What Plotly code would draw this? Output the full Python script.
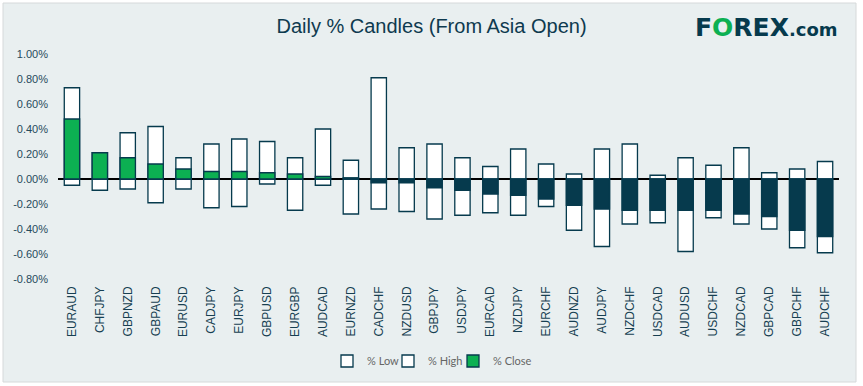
import plotly.graph_objects as go

pairs = ["EURAUD", "CHFJPY", "GBPNZD", "GBPAUD", "EURUSD", "CADJPY", "EURJPY",
         "GBPUSD", "EURGBP", "AUDCAD", "EURNZD", "CADCHF", "NZDUSD", "GBPJPY",
         "USDJPY", "EURCAD", "NZDJPY", "EURCHF", "AUDNZD", "AUDJPY", "NZDCHF",
         "USDCAD", "AUDUSD", "USDCHF", "NZDCAD", "GBPCAD", "GBPCHF", "AUDCHF"]
pct_high = [0.73, 0.21, 0.37, 0.42, 0.17, 0.28, 0.32, 0.30, 0.17, 0.40, 0.15, 0.81, 0.25, 0.28,
            0.17, 0.10, 0.24, 0.12, 0.04, 0.24, 0.28, 0.03, 0.17, 0.11, 0.25, 0.05, 0.08, 0.14]
pct_low = [-0.05, -0.09, -0.08, -0.19, -0.08, -0.23, -0.22, -0.04, -0.25, -0.05, -0.28, -0.24, -0.26, -0.32,
           -0.29, -0.27, -0.29, -0.22, -0.41, -0.54, -0.36, -0.35, -0.58, -0.31, -0.36, -0.40, -0.55, -0.59]
pct_close = [0.48, 0.21, 0.17, 0.12, 0.08, 0.06, 0.06, 0.05, 0.04, 0.02, 0.01, -0.03, -0.03, -0.07,
             -0.09, -0.12, -0.13, -0.16, -0.21, -0.24, -0.25, -0.25, -0.25, -0.25, -0.28, -0.30, -0.41, -0.46]
y_tickvals = [1.0, 0.8, 0.6, 0.4, 0.2, 0.0, -0.2, -0.4, -0.6, -0.8]
y_ticktext = ["1.00%", "0.80%", "0.60%", "0.40%", "0.20%", "0.00%", "-0.20%", "-0.40%", "-0.60%", "-0.80%"]

NAVY = "#063a4d"
GREEN = "#0cb052"
BG = "#e9eff0"
W, H = 863, 386
ML, MR, MT, MB = 58, 24, 54, 107
BW = 0.55
LW = 1.3

close_colors = [GREEN if v > 0 else NAVY for v in pct_close]

fig = go.Figure()
fig.add_trace(go.Bar(name="% Low", x=pairs, y=pct_low, width=BW, legend="legend",
                     marker=dict(color="white", line=dict(color=NAVY, width=LW))))
fig.add_trace(go.Bar(name="% High", x=pairs, y=pct_high, width=BW, legend="legend2",
                     marker=dict(color="white", line=dict(color=NAVY, width=LW))))
fig.add_trace(go.Bar(name="% Close", x=pairs, y=pct_close, width=BW, legend="legend3",
                     marker=dict(color=close_colors, line=dict(color=NAVY, width=LW))))

pw = W - ML - MR
ph = H - MT - MB
fig.add_shape(type="rect", xref="paper", yref="paper", layer="below",
              x0=(3 - ML) / pw, x1=(856 - ML) / pw,
              y0=(H - MB - 382) / ph, y1=(H - MB - 3) / ph,
              fillcolor=BG, line=dict(color="#d6d9da", width=1))

fig.add_annotation(xref="paper", yref="paper", xanchor="left", yanchor="middle",
                   x=(693 - ML) / pw, y=(H - MB - 28) / ph, showarrow=False,
                   text=("<b><span style='color:%s'>F</span><span style='color:%s'>O</span>"
                         "<span style='color:%s'>REX</span></b>"
                         "<b><span style='color:%s;font-size:18px'>.com</span></b>") % (NAVY, GREEN, NAVY, NAVY),
                   font=dict(family="DejaVu Sans", size=25, color=NAVY))

legend_font = dict(family="Lato", size=11, color="#666666")


def leg(left_px):
    return dict(orientation="h", x=left_px / W, xref="container", xanchor="left",
                y=1 - 361 / H, yref="container", yanchor="middle",
                font=legend_font, bgcolor="rgba(0,0,0,0)", borderwidth=0)


fig.update_layout(
    width=W, height=H,
    margin=dict(l=ML, r=MR, t=MT, b=MB, pad=0, autoexpand=False),
    paper_bgcolor="white",
    plot_bgcolor="rgba(0,0,0,0)",
    barmode="overlay",
    title=dict(text="Daily % Candles (From Asia Open)", x=0.5, xref="container",
               y=1 - 26 / H, yref="container", xanchor="center", yanchor="middle",
               font=dict(family="Liberation Sans", size=20, color="#0e3a4f")),
    showlegend=True,
    legend=leg(327),
    legend2=leg(388),
    legend3=leg(453),
    xaxis=dict(type="category", tickangle=-90, showgrid=False, showline=False,
               ticks="", ticklabelstandoff=4,
               tickfont=dict(family="Liberation Sans", size=12, color="#173f52")),
    yaxis=dict(range=[-0.8, 1.0], tickvals=y_tickvals, ticktext=y_ticktext,
               showgrid=False, showline=False, ticks="",
               zeroline=True, zerolinecolor="black", zerolinewidth=1.5,
               layer="above traces", ticklabelstandoff=9,
               tickfont=dict(family="Liberation Sans", size=11, color="#264a5c")),
)

fig.write_html("out.html", config={"displayModeBar": False},
               post_script="document.body.style.margin='0';document.body.style.padding='0';")
